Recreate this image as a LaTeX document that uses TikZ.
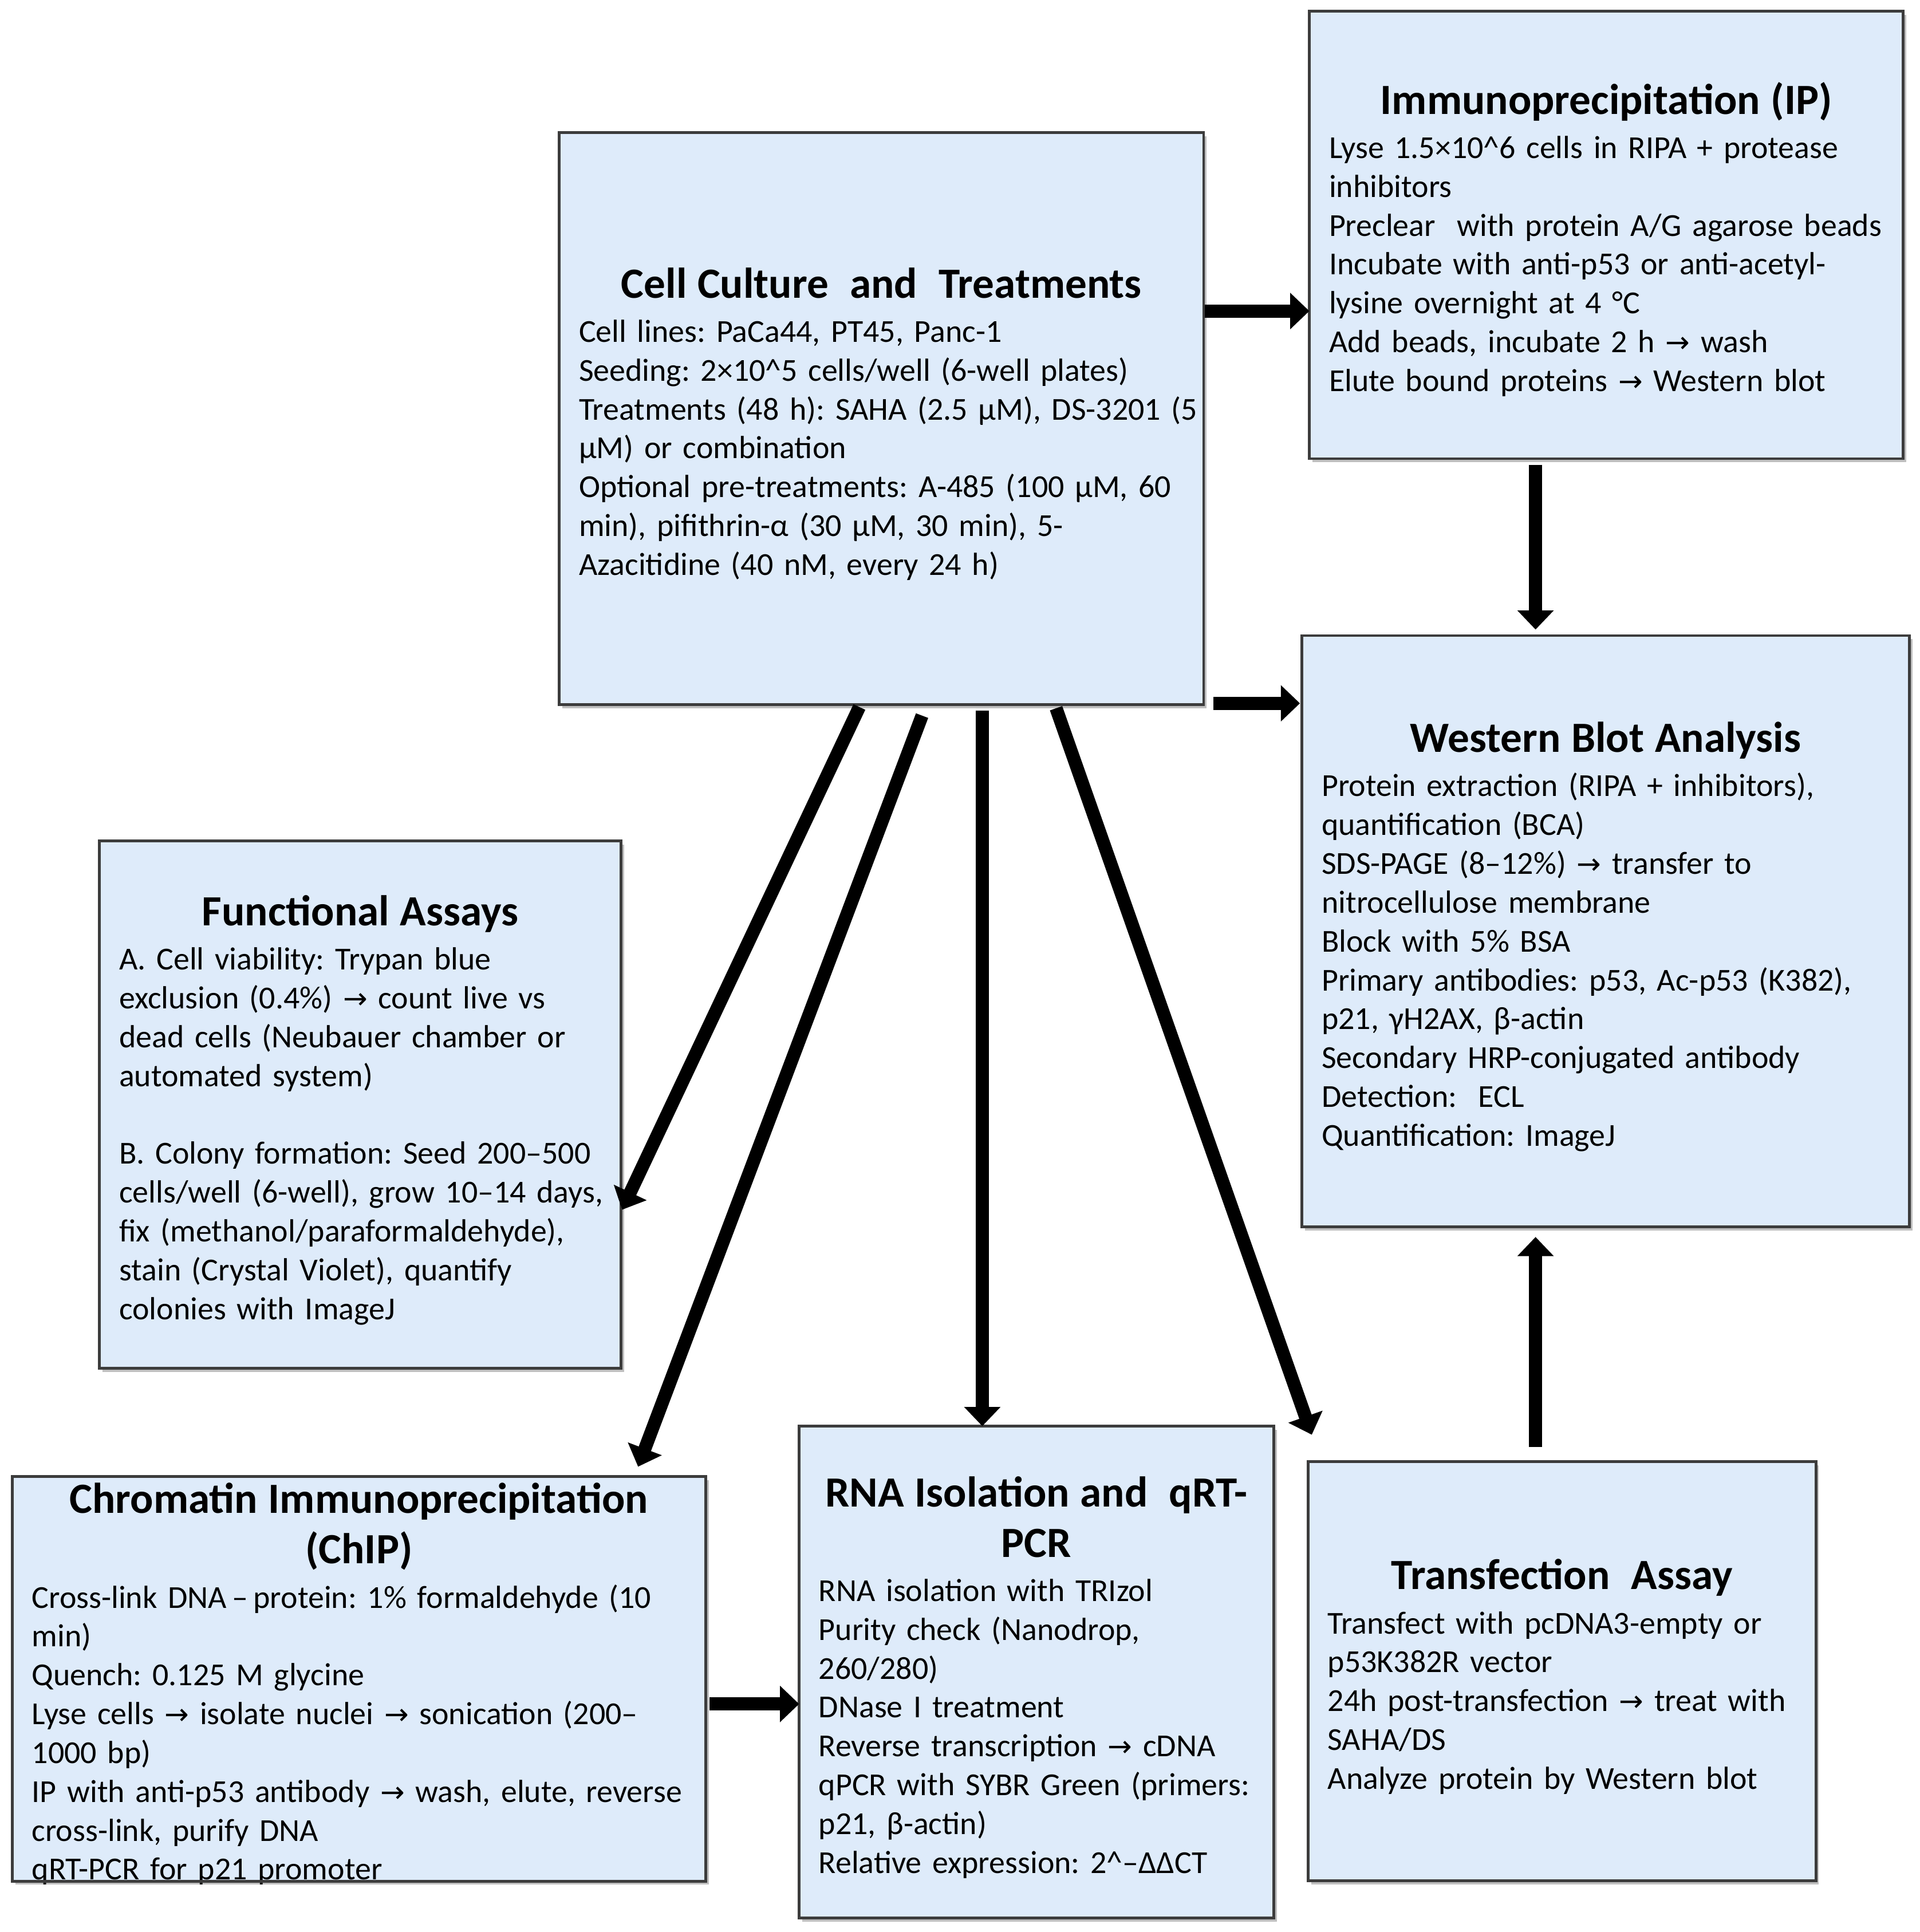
\documentclass[tikz,border=0pt]{standalone}
\usepackage{fontspec}
\setmainfont{Carlito}
\newfontfamily\arrowfont{DejaVu Sans}
\usetikzlibrary{arrows.meta,calc,shadows}
\definecolor{boxblue}{RGB}{222,235,250}
\definecolor{boxline}{RGB}{60,60,60}
\frenchspacing
\newcommand\ra{{\arrowfont\fontsize{14.5}{14.5}\selectfont →}}
\newcommand\btitle[1]{{\centering\fontsize{21.4}{25}\selectfont\bfseries\strut #1\strut\par}}
\newcommand\bbody[1]{\begin{tabular}[t]{@{}l@{}}#1\end{tabular}\par\kern-6pt}
\tikzset{
  box/.style={draw=boxline, line width=1.4pt, fill=boxblue, inner sep=0pt, outer sep=0pt,
    anchor=north west, align=left, font=\frenchspacing\fontsize{15.9}{19.3}\selectfont,
    drop shadow={shadow xshift=1.5pt, shadow yshift=-1.8pt, opacity=0.25, fill=black}},
  bigarrow/.style={line width=6.5pt, draw=black, -{Triangle[width=17.5pt,length=9.5pt]}}
}
\begin{document}
\begin{tikzpicture}[x=0.02147cm, y=-0.02147cm]
\fill[white] (0,0) rectangle (1561.7,1571.5);
\useasboundingbox (0,0) rectangle (1561.7,1571.5);

\node[box, minimum width=320.1pt, minimum height=284.1pt, text width=300.6pt] (cell) at (455,108) {%
\btitle{Cell Culture\ \ and\ \ Treatments}%
\bbody{Cell lines: PaCa44, PT45, Panc-1\\
Seeding: 2×10\textasciicircum5 cells/well (6-well plates)\\
Treatments (48 h): SAHA (2.5 µM), DS-3201 (5\\
µM) or combination\\
Optional pre-treatments: A-485 (100 µM, 60\\
min), pifithrin-α (30 µM, 30 min), 5-\\
Azacitidine (40 nM, every 24 h)}};

\node[box, minimum width=295.1pt, minimum height=222.4pt, text width=275.5pt] (ip) at (1065,9) {%
\btitle{Immunoprecipitation (IP)}%
\bbody{Lyse 1.5×10\textasciicircum6 cells in RIPA + protease\\
inhibitors\\
Preclear\ \ with protein A/G agarose beads\\
Incubate with anti-p53 or anti-acetyl-\\
lysine overnight at 4 °C\\
Add beads, incubate 2 h \ra{} wash\\
Elute bound proteins \ra{} Western blot}};

\node[box, minimum width=301.8pt, minimum height=293.8pt, text width=282.2pt] (wb) at (1059,517) {%
\btitle{Western Blot Analysis}%
\bbody{Protein extraction (RIPA + inhibitors),\\
quantification (BCA)\\
SDS-PAGE (8–12\%) \ra{} transfer to\\
nitrocellulose membrane\\
Block with 5\% BSA\\
Primary antibodies: p53, Ac-p53 (K382),\\
p21, γH2AX, β-actin\\
Secondary HRP-conjugated antibody\\
Detection:\ \ ECL\\
Quantification: ImageJ}};

\node[box, minimum width=259.0pt, minimum height=262.1pt, text width=239.5pt] (fa) at (81,684) {%
\btitle{Functional Assays}%
\bbody{A. Cell viability: Trypan blue\\
exclusion (0.4\%) \ra{} count live vs\\
dead cells (Neubauer chamber or\\
automated system)\\
\\
B. Colony formation: Seed 200–500\\
cells/well (6-well), grow 10–14 days,\\
fix (methanol/paraformaldehyde),\\
stain (Crystal Violet), quantify\\
colonies with ImageJ}};

\node[box, minimum width=344.5pt, minimum height=201.0pt, text width=325pt] (chip) at (10,1201) {%
\btitle{Chromatin Immunoprecipitation\\(ChIP)}%
\bbody{Cross-link DNA\,–\,protein: 1\% formaldehyde (10\\
min)\\
Quench: 0.125 M glycine\\
Lyse cells \ra{} isolate nuclei \ra{} sonication (200–\\
1000 bp)\\
IP with anti-p53 antibody \ra{} wash, elute, reverse\\
cross-link, purify DNA\\
qRT-PCR for p21 promoter}};
\draw[boxline, line width=1.4pt] (chip.south west) -- (chip.south east);

\node[box, minimum width=235.8pt, minimum height=244.4pt, text width=216.3pt] (rna) at (650,1160) {%
\btitle{RNA Isolation and\ \ qRT-\\PCR}%
\bbody{RNA isolation with TRIzol\\
Purity check (Nanodrop,\\
260/280)\\
DNase I treatment\\
Reverse transcription \ra{} cDNA\\
qPCR with SYBR Green (primers:\\
p21, β-actin)\\
Relative expression: 2\textasciicircum–ΔΔCT}};

\node[box, minimum width=252.3pt, minimum height=208.3pt, text width=232.8pt] (tf) at (1064,1189) {%
\btitle{Transfection\ \ Assay}%
\bbody{Transfect with pcDNA3-empty or\\
p53K382R vector\\
24h post-transfection \ra{} treat with\\
SAHA/DS\\
Analyze protein by Western blot}};

% connector start points
\coordinate (s1) at ($(cell.north east)+(1,145)$);
\coordinate (s2) at ($(cell.south east)+(8,-1)$);
\coordinate (s3) at ($(ip.south west)+(184,5)$);
\coordinate (s4) at ($(tf.north west)+(185,-12)$);
\coordinate (s9) at ($(chip.north east)+(3,185)$);

\draw[bigarrow] (s1) -- (s1 -| ip.west);
\draw[bigarrow] (s2) -- ([xshift=-1pt]s2 -| wb.west);
\draw[bigarrow] (s3) -- ([yshift=3pt]s3 |- wb.north);
\draw[bigarrow] (s4) -- ([yshift=-5pt]s4 |- wb.south);
\draw[bigarrow] ($(cell.south west)+(244,2)$) -- ($(fa.north east)+(1,300)$);
\draw[bigarrow] ($(cell.south west)+(295,9)$) -- ($(chip.north west)+(509,-8)$);
\draw[bigarrow] ($(cell.south west)+(344,5)$) -- ($(rna.north west)+(149,0)$);
\draw[bigarrow] ($(cell.south west)+(404,3)$) -- ($(tf.north west)+(3,-22)$);
\draw[bigarrow] (s9) -- (s9 -| rna.west);
\end{tikzpicture}
\end{document}
